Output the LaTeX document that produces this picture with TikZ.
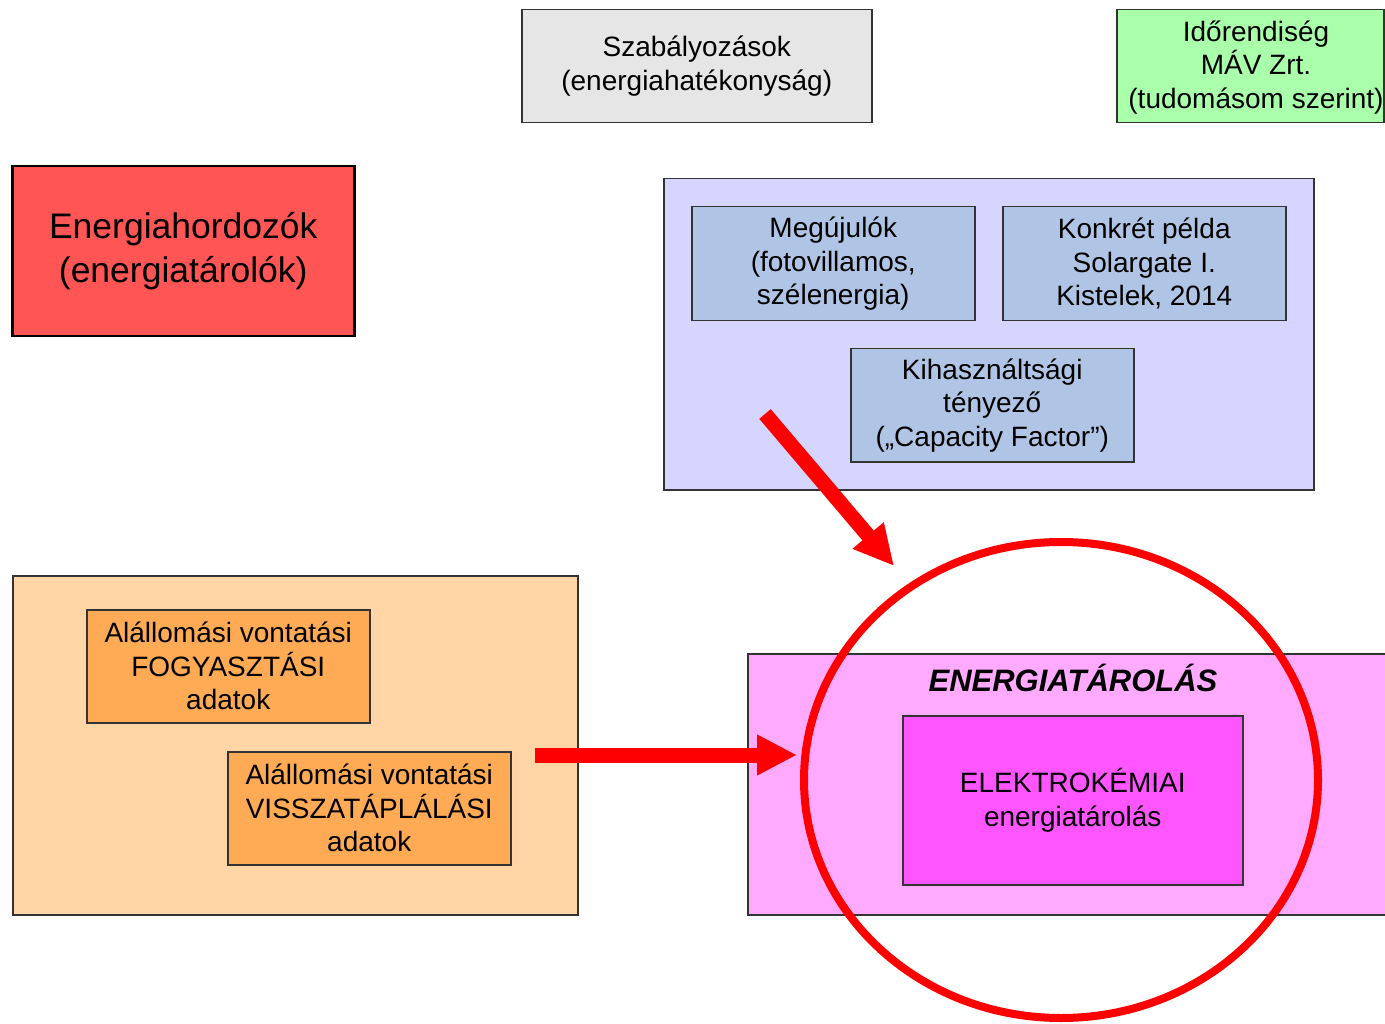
\documentclass[tikz,border=0pt]{standalone}
\usepackage{fontspec}
\setmainfont{Liberation Sans}
\usetikzlibrary{arrows.meta,shapes.geometric}

\definecolor{rulesgray}{HTML}{E6E6E6}
\definecolor{timegreen}{HTML}{AAFFAA}
\definecolor{carrierred}{HTML}{FF5555}
\definecolor{renewlav}{HTML}{D5D5FF}
\definecolor{renewblue}{HTML}{B0C5E5}
\definecolor{tractionpeach}{HTML}{FFD5A6}
\definecolor{tractionorange}{HTML}{FFAA55}
\definecolor{storagepink}{HTML}{FFAAFF}
\definecolor{storagemagenta}{HTML}{FF55FF}
\definecolor{framegray}{HTML}{333333}
\definecolor{alertred}{HTML}{FF0000}

\tikzset{
  panel/.style={draw=framegray, line width=1.5pt, inner sep=0pt, anchor=north west,
    align=center, font=\fontsize{28}{33.5}\selectfont},
  paneltext/.style={inner sep=0pt, align=center, font=\fontsize{28}{33.5}\selectfont},
  bigarrow/.style={draw=alertred, line width=15pt,
    -{Triangle[length=40pt,width=38pt]}, alertred}
}

\begin{document}
\begin{tikzpicture}[x=1pt, y=-1pt]
\useasboundingbox (0,0) rectangle (1385,1024);

% top row
\node[panel, fill=rulesgray, minimum width=350pt, minimum height=113pt]
  (rules) at (521,9) {Szabályozások\\(energiahatékonyság)};
\node[panel, fill=timegreen, minimum width=267pt, minimum height=113pt]
  (timeline) at (1116,9) {};
\node[paneltext] (timelinetext) at (1256,67.5) {Időrendiség\\MÁV Zrt.\\(tudomásom szerint)};

% energy carriers
\node[panel, draw=black, line width=2.5pt, fill=carrierred, minimum width=342pt, minimum height=170pt,
  font=\fontsize{35.5}{44}\selectfont]
  (carriers) at (11,165) {Energiahordozók\\(energiatárolók)};

% renewables group
\node[panel, fill=renewlav, minimum width=650pt, minimum height=311pt] (renew) at (663,178) {};
\node[panel, fill=renewblue, minimum width=283pt, minimum height=114pt]
  (renewables) at (691,206) {Megújulók\\(fotovillamos,\\szélenergia)};
\node[panel, fill=renewblue, minimum width=283pt, minimum height=114pt]
  (example) at (1002,206) {Konkrét példa\\Solargate I.\\Kistelek, 2014};
\node[panel, fill=renewblue, minimum width=283pt, minimum height=113pt]
  (capacity) at (850,348) {Kihasználtsági\\tényező\\(„Capacity Factor”)};

% traction data group
\node[panel, fill=tractionpeach, minimum width=565pt, minimum height=339pt] (traction) at (12,575) {};
\node[panel, fill=tractionorange, minimum width=283pt, minimum height=113pt]
  (consumption) at (86,609) {Alállomási vontatási\\FOGYASZTÁSI\\adatok};
\node[panel, fill=tractionorange, minimum width=283pt, minimum height=113pt]
  (feedback) at (227,751) {Alállomási vontatási\\VISSZATÁPLÁLÁSI\\adatok};

% energy storage group
\node[panel, fill=storagepink, minimum width=650pt, minimum height=261pt] (storage) at (747,653) {};
\node[font=\fontsize{31}{36}\selectfont\bfseries\itshape] (storagetitle) at (1073,678) {ENERGIATÁROLÁS};
\node[panel, fill=storagemagenta, minimum width=340pt, minimum height=169pt]
  (electrochem) at (902,715) {ELEKTROKÉMIAI\\energiatárolás};

% highlight ring
\node[ellipse, draw=alertred, line width=8pt, minimum width=514pt, minimum height=476pt,
  inner sep=0pt, outer sep=0pt] (focus) at (1061,780) {};

% arrows
\coordinate (hstart) at (535,755);
\coordinate (htip) at (797,755);
\coordinate (dstart) at (765,414);
\coordinate (dtip) at (894,566);
\draw[bigarrow] (hstart) -- (htip);
\draw[bigarrow] (dstart) -- (dtip);
\end{tikzpicture}
\end{document}
